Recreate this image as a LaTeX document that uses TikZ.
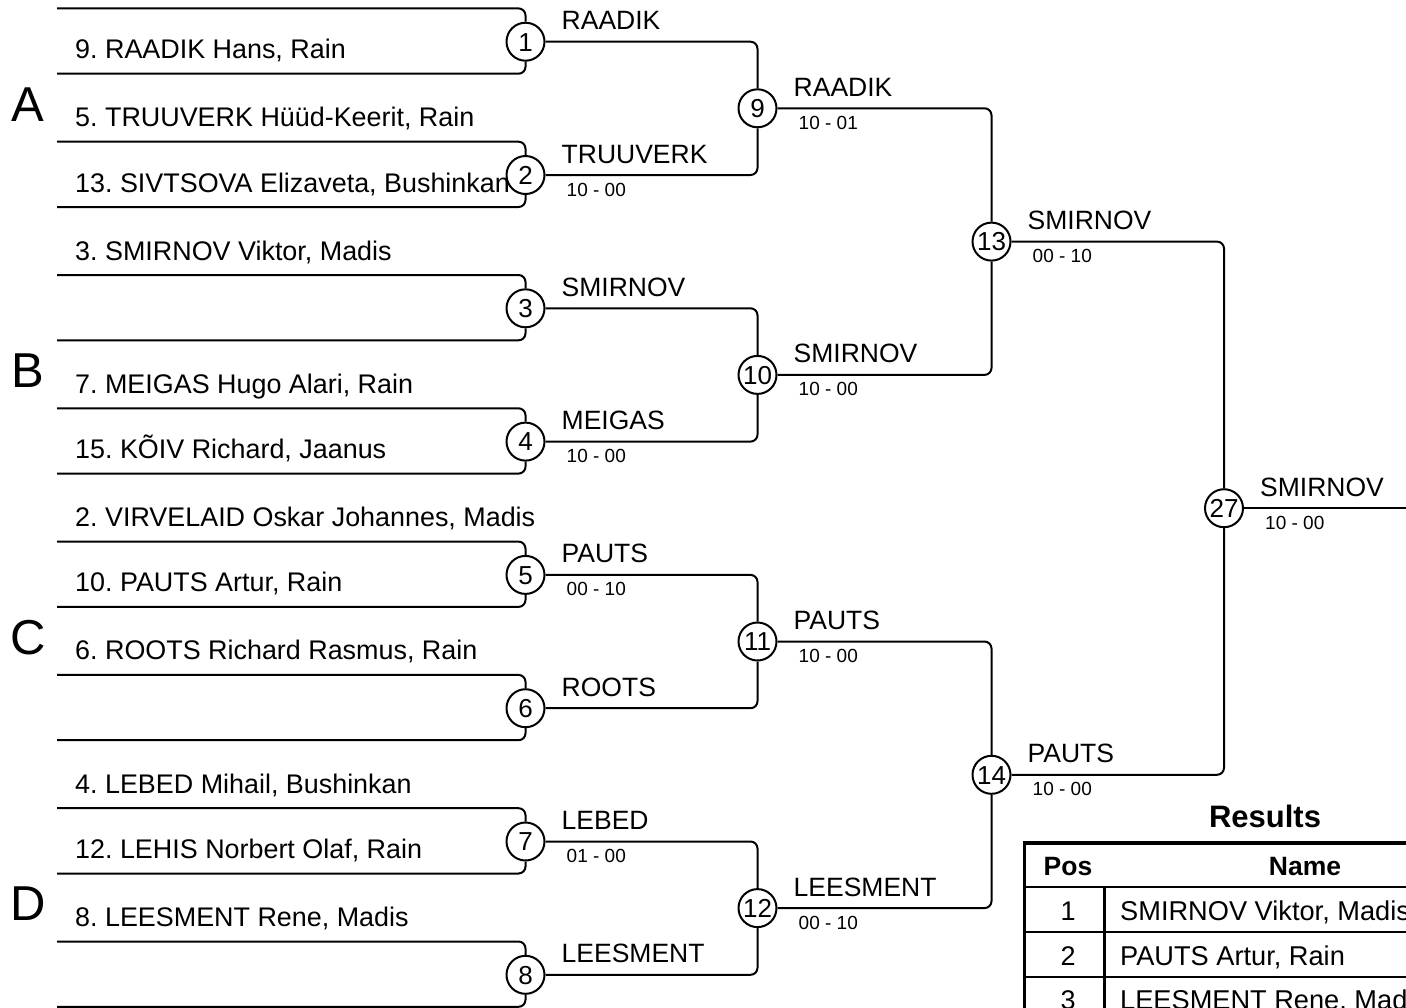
\documentclass[tikz,border=0pt]{standalone}
\usepackage{fontspec}
\setmainfont{Liberation Sans}
\frenchspacing
\begin{document}
\begin{tikzpicture}[x=1pt,y=-1pt,
  br/.style={line width=2pt, rounded corners=7pt},
  mc/.style={circle, draw, line width=2pt, fill=white, minimum size=38pt, inner sep=0pt,
    font=\fontsize{26}{26}\selectfont, text height=18.6pt, text depth=0pt},
  nm/.style={anchor=base west, inner sep=0pt, font=\fontsize{26.9}{30}\selectfont},
  wl/.style={anchor=base west, inner sep=0pt, font=\fontsize{26.5}{30}\selectfont},
  sc/.style={anchor=base west, inner sep=0pt, font=\fontsize{19}{22}\selectfont},
  grp/.style={anchor=base west, inner sep=0pt, font=\fontsize{49}{50}\selectfont},
  tb/.style={anchor=base, inner sep=0pt, font=\fontsize{26.5}{30}\selectfont\bfseries},
  tc/.style={anchor=base, inner sep=0pt, font=\fontsize{27}{30}\selectfont},
  tn/.style={anchor=base west, inner sep=0pt, font=\fontsize{27.2}{30}\selectfont},
]
\useasboundingbox (0,0) rectangle (1406,1007);
\clip (0,0) rectangle (1406,1007);

% ---- player names ----
\node[nm] (p1b) at (75,58.7)  {9. RAADIK Hans, Rain};
\node[nm] (p2t) at (75,126.7) {5. TRUUVERK Hüüd-Keerit, Rain};
\node[nm] (p2b) at (75,192.0) {13. SIVTSOVA Elizaveta, Bushinkan};
\node[nm] (p3t) at (75,260.0) {3. SMIRNOV Viktor, Madis};
\node[nm] (p4t) at (75,393.3) {7. MEIGAS Hugo Alari, Rain};
\node[nm] (p4b) at (75,458.6) {15. KÕIV Richard, Jaanus};
\node[nm] (p5t) at (75,526.6) {2. VIRVELAID Oskar Johannes, Madis};
\node[nm] (p5b) at (75,591.9) {10. PAUTS Artur, Rain};
\node[nm] (p6t) at (75,659.9) {6. ROOTS Richard Rasmus, Rain};
\node[nm] (p7t) at (75,793.2) {4. LEBED Mihail, Bushinkan};
\node[nm] (p7b) at (75,858.5) {12. LEHIS Norbert Olaf, Rain};
\node[nm] (p8t) at (75,926.5) {8. LEESMENT Rene, Madis};

% ---- group letters ----
\node[grp] (gA) at (11,121.0) {A};
\node[grp] (gB) at (11,387.6) {B};
\node[grp] (gC) at (10,654.2) {C};
\node[grp] (gD) at (10,920.8) {D};

% ---- match circles ----
\foreach \k in {1,...,8} {
  \node[mc] (m\k) at (525.5,{41.7+(\k-1)*133.3}) {\k};
  \coordinate (t\k) at (57,{41.7+(\k-1)*133.3-33.3});
  \coordinate (b\k) at (57,{41.7+(\k-1)*133.3+32});
}
\foreach \k/\j in {9/0,10/1,11/2,12/3}
  \node[mc] (m\k) at (757.5,{108.3+\j*266.6}) {\k};
\node[mc] (m13) at (991.5,241.6) {13};
\node[mc] (m14) at (991.5,774.8) {14};
\node[mc] (m27) at (1224,508.2) {27};
\coordinate (fin) at (1406,508.2);

% ---- bracket lines ----
\foreach \k in {1,...,8} {
  \draw[br] (t\k) -| (m\k.north);
  \draw[br] (b\k) -| (m\k.south);
}
\draw[br] (m1.east) -| (m9.north);
\draw[br] (m2.east) -| (m9.south);
\draw[br] (m3.east) -| (m10.north);
\draw[br] (m4.east) -| (m10.south);
\draw[br] (m5.east) -| (m11.north);
\draw[br] (m6.east) -| (m11.south);
\draw[br] (m7.east) -| (m12.north);
\draw[br] (m8.east) -| (m12.south);
\draw[br] (m9.east) -| (m13.north);
\draw[br] (m10.east) -| (m13.south);
\draw[br] (m11.east) -| (m14.north);
\draw[br] (m12.east) -| (m14.south);
\draw[br] (m13.east) -| (m27.north);
\draw[br] (m14.east) -| (m27.south);
\draw[br] (m27.east) -- (fin);

% ---- winners ----
\foreach \k/\w in {1/RAADIK,2/TRUUVERK,3/SMIRNOV,4/MEIGAS,5/PAUTS,6/ROOTS,7/LEBED,8/LEESMENT,
                   9/RAADIK,10/SMIRNOV,11/PAUTS,12/LEESMENT,13/SMIRNOV,14/PAUTS,27/SMIRNOV}
  \node[wl] (w\k) at ([xshift=36pt,yshift=12pt]m\k.center) {\w};

% ---- scores ----
\foreach \k/\s in {2/10 - 00,4/10 - 00,5/00 - 10,7/01 - 00,9/10 - 01,10/10 - 00,11/10 - 00,
                   12/00 - 10,13/00 - 10,14/10 - 00,27/10 - 00}
  \node[sc] (s\k) at ([xshift=41pt,yshift=-21pt]m\k.center) {\s};

% ---- results table ----
\node[anchor=base, inner sep=0pt, font=\fontsize{31}{34}\selectfont\bfseries] (res) at (1265,827) {Results};
\draw[line width=2.5pt] (1024.5,887) -- (1560,887);
\draw[line width=2.5pt] (1024.5,932) -- (1560,932);
\draw[line width=2.5pt] (1024.5,977) -- (1560,977);
\draw[line width=2.5pt] (1104.5,887) -- (1104.5,1060);
\draw[line width=3.5pt] (1024.5,843) rectangle (1560,1060);
\node[tb] (hpos) at (1068,875) {Pos};
\node[tb] (hname) at (1305,875) {Name};
\node[tc] (r1p) at (1068,920) {1};
\node[tn] (r1n) at (1120,920) {SMIRNOV Viktor, Madis};
\node[tc] (r2p) at (1068,965) {2};
\node[tn] (r2n) at (1120,965) {PAUTS Artur, Rain};
\node[tc] (r3p) at (1068,1009) {3};
\node[tn] (r3n) at (1120,1009) {LEESMENT Rene, Madis};
\end{tikzpicture}
\end{document}
